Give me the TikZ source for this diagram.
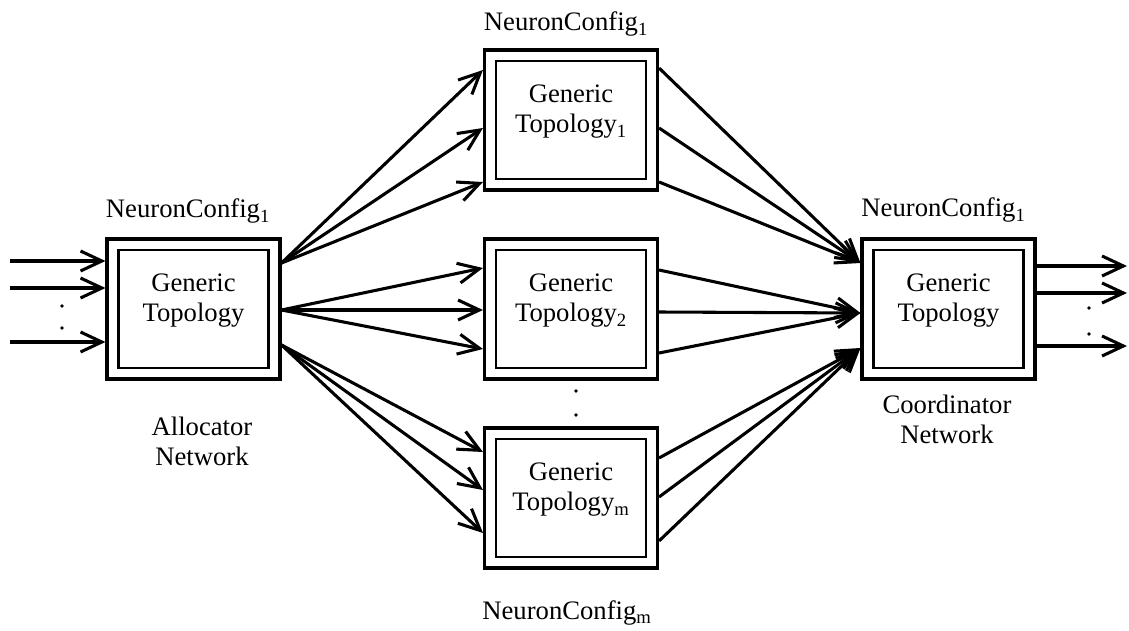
\documentclass[tikz,border=0pt]{standalone}
\usepackage{fontspec}
\setmainfont{Liberation Serif}
\usetikzlibrary{arrows.meta,calc}
\begin{document}
\begin{tikzpicture}[x=0.75pt,y=-0.75pt,
  every node/.style={font=\fontsize{20}{22.5}\selectfont},
  outerbox/.style={draw,line width=2.3pt,minimum width=129.75pt,minimum height=105pt,inner sep=0pt},
  innerbox/.style={draw,line width=2pt,minimum width=112.5pt,minimum height=88.5pt,inner sep=0pt},
  txt/.style={align=center,inner sep=0pt},
  caption/.style={anchor=base,inner sep=0pt},
  conn/.style={line width=2.3pt,-{Straight Barb[length=16pt,width=15pt]}},
  dot/.style={fill=black},
]
\useasboundingbox (0,0) rectangle (1129,631);

% network blocks: outer frame, inner frame, text
\node[outerbox] (A) at (193.5,309) {};
\node[innerbox] (Ai) at (A) {};
\node[txt] (At) at ($(A)+(0,-8)$) {Generic\\Topology};

\node[outerbox] (T1) at (571,120) {};
\node[innerbox] (T1i) at (T1) {};
\node[txt] (T1t) at ($(T1)+(0,-8)$) {Generic\\Topology\textsubscript{1}};

\node[outerbox] (T2) at (571,309) {};
\node[innerbox] (T2i) at (T2) {};
\node[txt] (T2t) at ($(T2)+(0,-8)$) {Generic\\Topology\textsubscript{2}};

\node[outerbox] (Tm) at (571,498) {};
\node[innerbox] (Tmi) at (Tm) {};
\node[txt] (Tmt) at ($(Tm)+(0,-8)$) {Generic\\Topology\textsubscript{m}};

\node[outerbox] (C) at (948.5,309) {};
\node[innerbox] (Ci) at (C) {};
\node[txt] (Ct) at ($(C)+(0,-8)$) {Generic\\Topology};

% captions
\node[caption] (Ac) at (188,218) {NeuronConfig\textsubscript{1}};
\node[caption] (T1c) at (566,31) {NeuronConfig\textsubscript{1}};
\node[caption] (Cc) at (943.5,217) {NeuronConfig\textsubscript{1}};
\node[caption] (Tmc) at (567,619) {NeuronConfig\textsubscript{m}};
\node[txt] (alloc) at (202,441) {Allocator\\Network};
\node[txt] (coord) at (947,419) {Coordinator\\Network};

% inputs
\coordinate (in1) at (10,261);
\coordinate (in2) at (10,288);
\coordinate (in3) at (10,342);
\foreach \c in {in1,in2,in3}
  \draw[conn] (\c) -- (\c -| A.west);
\fill[dot] (62,306) circle[radius=1.4pt];
\fill[dot] (62,328) circle[radius=1.4pt];

% outputs
\coordinate (out1) at (1127,266);
\coordinate (out2) at (1127,293);
\coordinate (out3) at (1127,346);
\foreach \c in {out1,out2,out3}
  \draw[conn] (\c -| C.east) -- (\c);
\fill[dot] (1089,308) circle[radius=1.4pt];
\fill[dot] (1089,334) circle[radius=1.4pt];

% dots between the middle blocks
\fill[dot] (576,391) circle[radius=1.4pt];
\fill[dot] (576,415) circle[radius=1.4pt];

% allocator fan-out
\foreach \dy in {-50,8,62}
  \draw[conn] ($(A.east)+(0,-46)$) -- ($(T1.west)+(0,\dy)$);
\foreach \dy in {-41,1,40}
  \draw[conn] ($(A.east)+(0,1)$) -- ($(T2.west)+(0,\dy)$);
\foreach \dy in {-46,-8,35}
  \draw[conn] ($(A.east)+(0,36)$) -- ($(Tm.west)+(0,\dy)$);

% coordinator fan-in
\foreach \dy in {-52,8,62}
  \draw[conn] ($(T1.east)+(0,\dy)$) -- ($(C.west)+(0,-46)$);
\foreach \dy in {-39,3,44}
  \draw[conn] ($(T2.east)+(0,\dy)$) -- ($(C.west)+(0,4)$);
\foreach \dy in {-40,-1,43}
  \draw[conn] ($(Tm.east)+(0,\dy)$) -- ($(C.west)+(0,39)$);
\end{tikzpicture}
\end{document}
